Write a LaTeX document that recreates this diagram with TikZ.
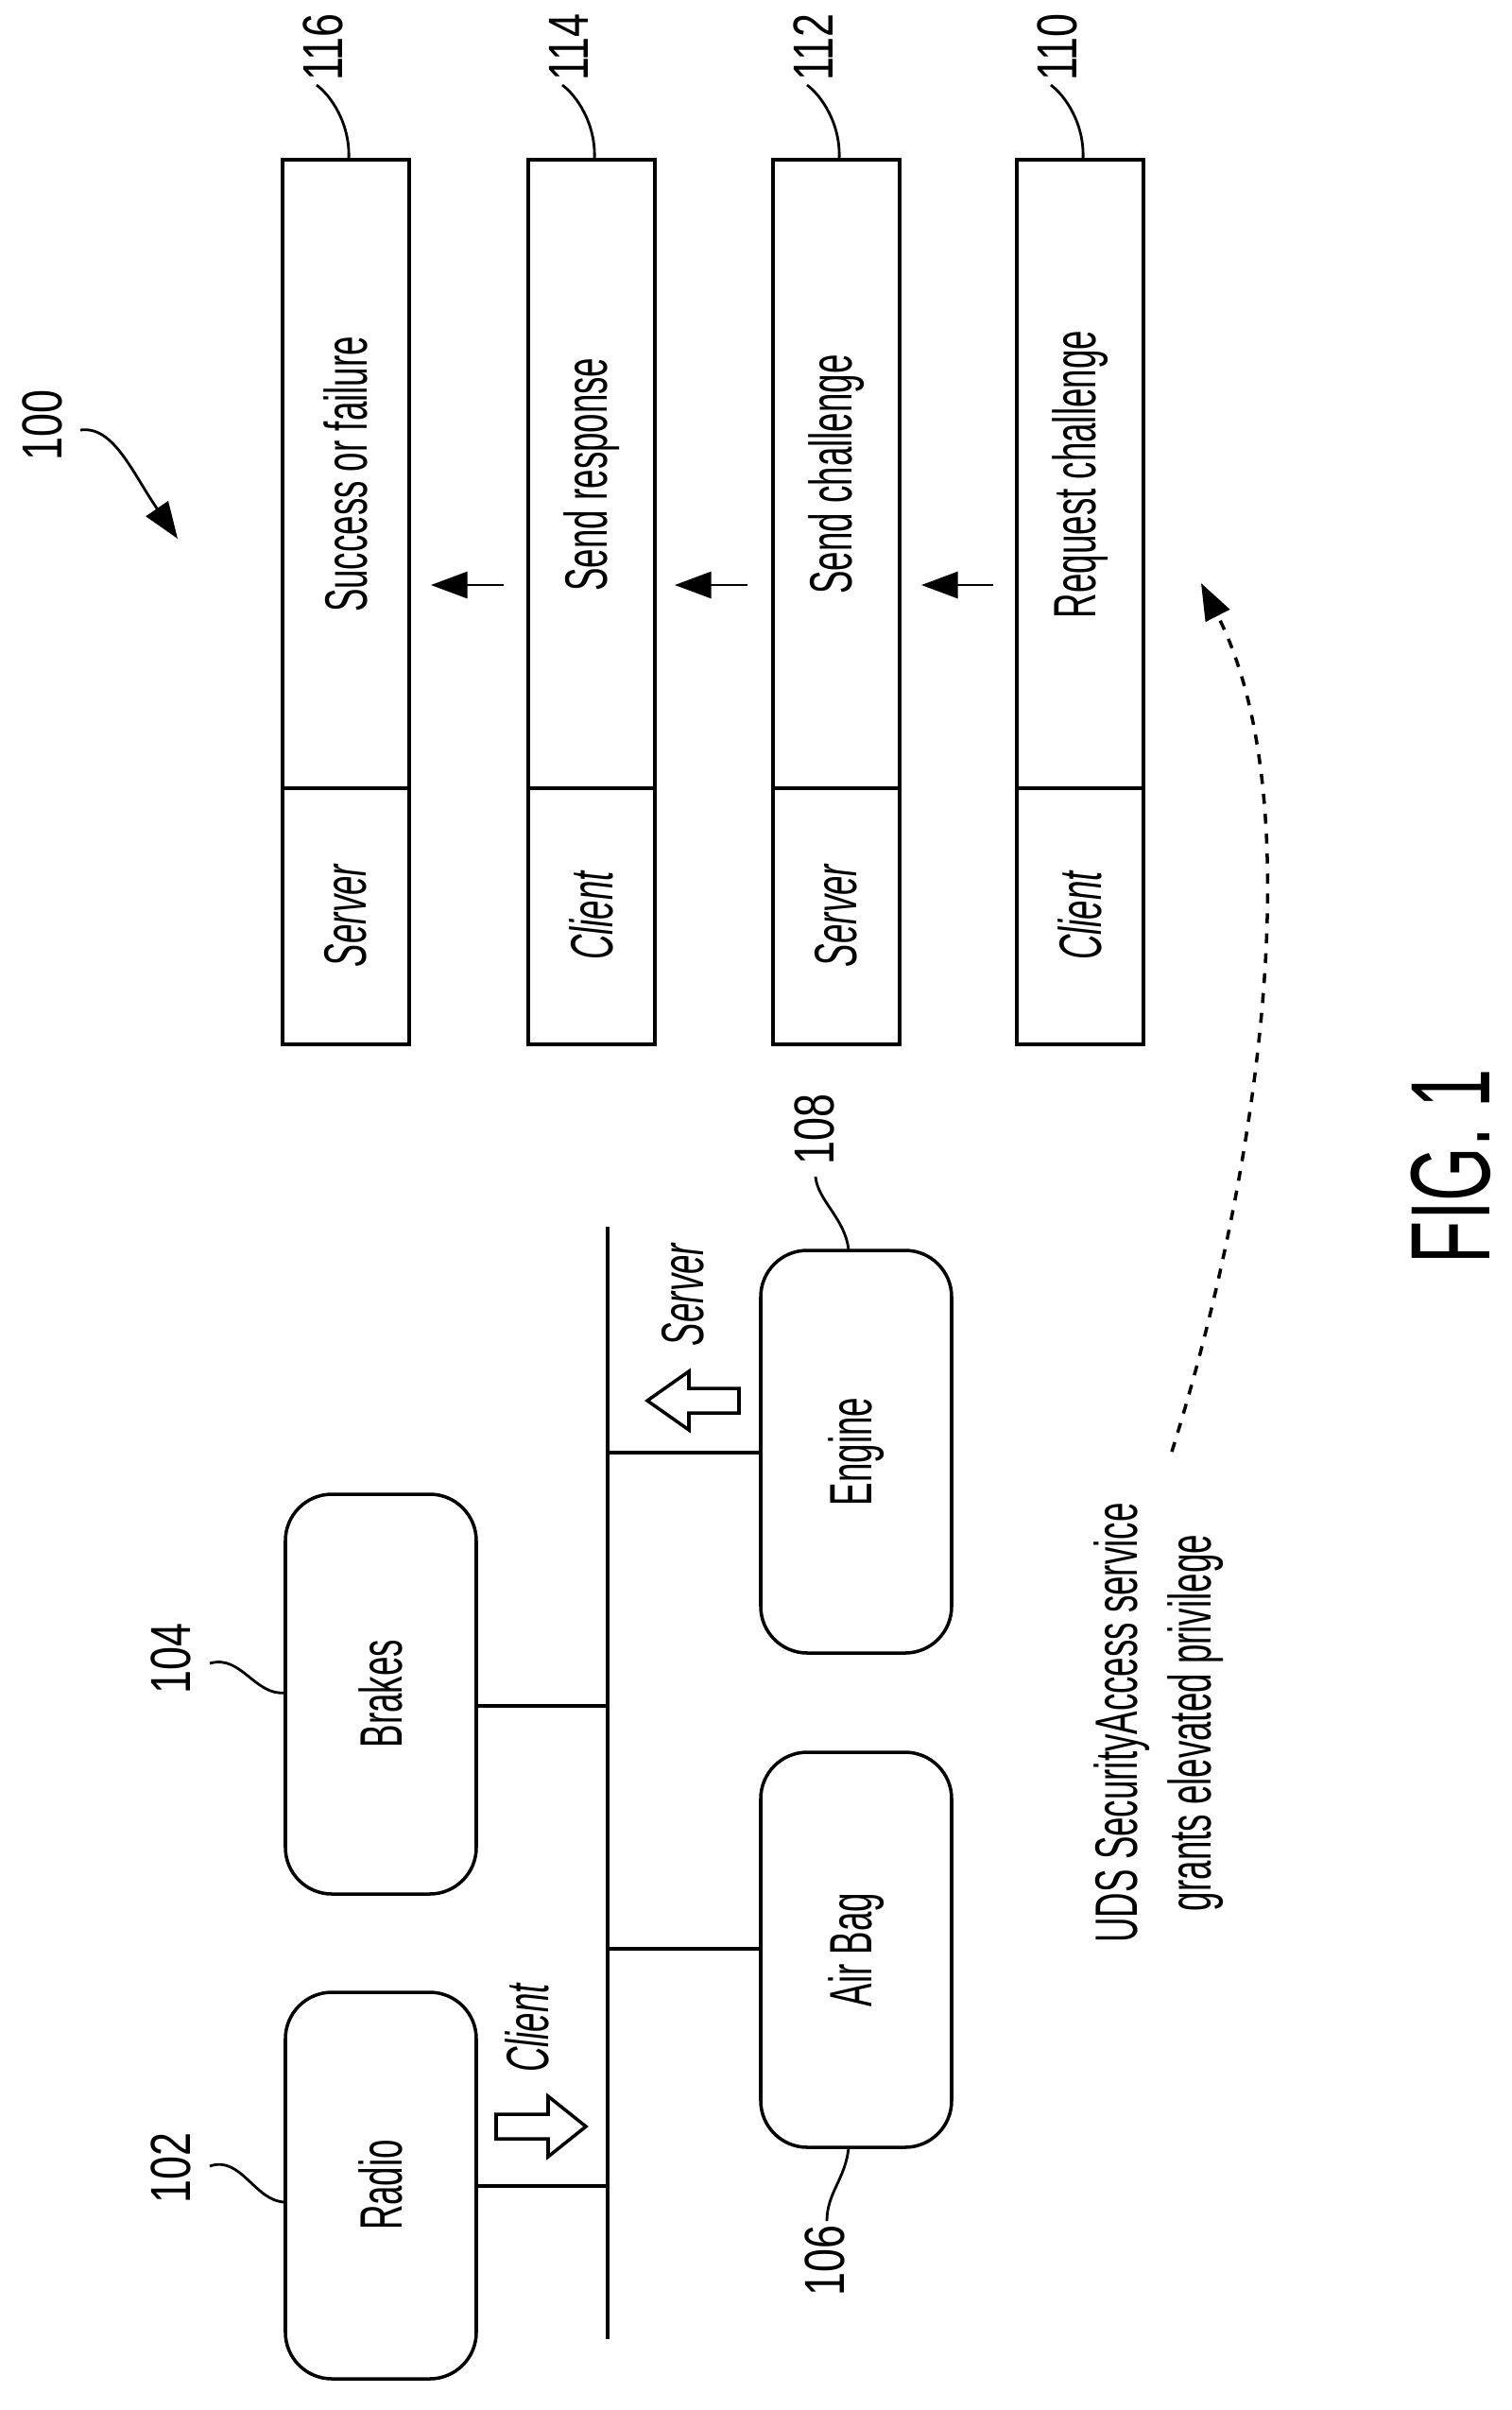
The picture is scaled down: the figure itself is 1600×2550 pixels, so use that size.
\documentclass[tikz,border=0pt]{standalone}
\usepackage{fontspec}
\setmainfont{Liberation Sans}
\usetikzlibrary{arrows.meta}
\tikzset{
  ecu/.style={draw,rounded corners=14pt,line width=1pt},
  stepbox/.style={draw,line width=1pt},
  lbl/.style={rotate=90,xscale=0.58,font=\fontsize{18}{22}\selectfont},
  role/.style={lbl,font=\itshape\fontsize{18}{22}\selectfont},
  ref/.style={rotate=90,xscale=0.75,inner sep=1pt,font=\fontsize{17}{20}\selectfont},
  lead/.style={line width=0.8pt},
  bus/.style={line width=1pt},
  bigarrow/.style={draw,line width=1pt,fill=white},
  tip/.style={-{Triangle[length=11pt,width=8pt]}}
}
\begin{document}
\begin{tikzpicture}[x=0.01cm,y=-0.01cm]
\useasboundingbox (0,0) rectangle (1600,2550);
% ECUs on the bus
\draw[ecu] (302,2108) rectangle (504,2517);
\node[lbl] (radio) at (403,2312) {Radio};
\draw[ecu] (302,1581) rectangle (504,2004);
\node[lbl] (brakes) at (403,1792) {Brakes};
\draw[ecu] (805,1854) rectangle (1007,2272);
\node[lbl] (airbag) at (906,2063) {Air Bag};
\draw[ecu] (805,1323) rectangle (1007,1749);
\node[lbl] (engine) at (906,1536) {Engine};
\coordinate (bustop) at (643,1298);
\coordinate (busbot) at (643,2475);
\draw[bus] (bustop) -- (busbot);
\draw[bus] (504,2313) -- (643,2313);
\draw[bus] (504,1805) -- (643,1805);
\draw[bus] (643,2062) -- (805,2062);
\draw[bus] (643,1537) -- (805,1537);
% client / server arrows
\draw[bigarrow] (525,2237) -- (580,2237) -- (580,2218) -- (620,2250) -- (580,2282) -- (580,2263) -- (525,2263) -- cycle;
\node[role] (clientlbl) at (558,2146) {Client};
\draw[bigarrow] (782,1469) -- (729,1469) -- (729,1451) -- (685,1482) -- (729,1513) -- (729,1495) -- (782,1495) -- cycle;
\node[role] (serverlbl) at (723,1370) {Server};
% reference numerals, left side
\node[ref] (n102) at (181,2294) {102};
\draw[lead] (222,2292) .. controls (255,2280) and (270,2330) .. (302,2330);
\node[ref] (n104) at (181,1755) {104};
\draw[lead] (222,1760) .. controls (255,1750) and (270,1795) .. (302,1791);
\node[ref] (n106) at (873,2392) {106};
\draw[lead] (875,2350) .. controls (875,2320) and (895,2305) .. (898,2272);
\node[ref] (n108) at (862,1195) {108};
\draw[lead] (863,1245) .. controls (865,1270) and (895,1290) .. (898,1323);
% security access steps
\foreach \x/\num/\who/\txt in {299/116/Server/Success or failure, 559/114/Client/Send response, 818/112/Server/Send challenge, 1076/110/Client/Request challenge}{
  \draw[stepbox] (\x,169) rectangle (\x+134,1105);
  \draw[stepbox] (\x,834) -- (\x+134,834);
  \node[lbl] (s\num) at (\x+67,502) {\txt};
  \node[role] (r\num) at (\x+67,969) {\who};
  \node[ref] (n\num) at (\x+43,50) {\num};
  \draw[lead] (\x+36,90) .. controls (\x+50,100) and (\x+72,130) .. (\x+70,169);
}
\draw[tip,line width=0.8pt] (533,619) -- (456,619);
\draw[tip,line width=0.8pt] (791,619) -- (714,619);
\draw[tip,line width=0.8pt] (1051,619) -- (975,619);
% overall reference
\node[ref] (n100) at (45,450) {100};
\coordinate (p100) at (188,570);
\draw[lead,tip] (85,455) .. controls (120,450) and (140,500) .. (p100);
% elevated privilege
\coordinate (dstart) at (1240,1536);
\coordinate (dend) at (1271,617);
\draw[dashed,line width=1pt,tip] (dstart) .. controls (1330,1250) and (1390,850) .. (dend);
\node[lbl,align=center] (uds) at (1226,1823) {UDS SecurityAccess service\\grants elevated privilege};
\node[rotate=90,xscale=0.62,inner sep=0pt,font=\fontsize{34}{40}\selectfont] (fig) at (1535,1234) {FIG. 1};
\end{tikzpicture}
\end{document}
